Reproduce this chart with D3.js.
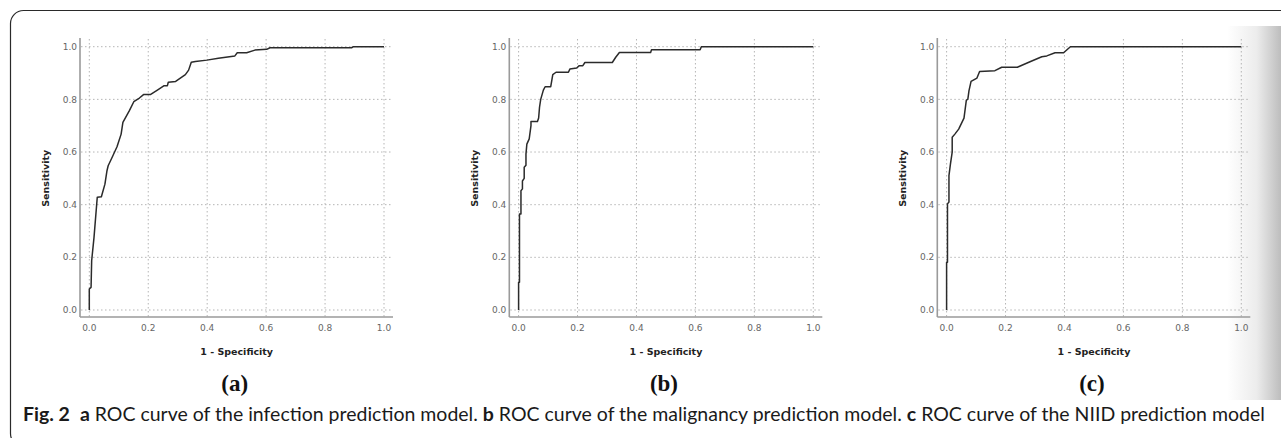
<!DOCTYPE html>
<html>
<head>
<meta charset="utf-8">
<script src="https://cdn.jsdelivr.net/npm/d3@7"></script>
<style>
  html, body { margin: 0; padding: 0; background: #fff; }
  svg { display: block; }
</style>
</head>
<body>
<div id="chart"></div>
<script>
const width = 1281;
const height = 438;

// ROC points (1 - specificity, sensitivity)
const fprA = [0, 0, 0.006, 0.008, 0.016, 0.027, 0.041, 0.053, 0.06, 0.064, 0.08, 0.094, 0.108, 0.114, 0.136, 0.151, 0.17, 0.184, 0.207, 0.231, 0.254, 0.265, 0.268, 0.293, 0.326, 0.337, 0.346, 0.36, 0.399, 0.438, 0.494, 0.502, 0.534, 0.562, 0.602, 0.613, 0.89, 0.896, 1];
const tprA = [0, 0.08, 0.086, 0.187, 0.276, 0.428, 0.43, 0.478, 0.529, 0.548, 0.586, 0.62, 0.668, 0.713, 0.757, 0.791, 0.805, 0.818, 0.818, 0.835, 0.852, 0.852, 0.865, 0.868, 0.894, 0.911, 0.941, 0.944, 0.949, 0.956, 0.965, 0.977, 0.977, 0.987, 0.99, 0.996, 0.996, 1, 1];

const fprB = [0, 0, 0.003, 0.003, 0.008, 0.008, 0.013, 0.013, 0.019, 0.019, 0.025, 0.025, 0.028, 0.036, 0.042, 0.042, 0.064, 0.068, 0.071, 0.075, 0.084, 0.09, 0.109, 0.116, 0.127, 0.169, 0.174, 0.197, 0.206, 0.218, 0.225, 0.318, 0.329, 0.342, 0.448, 0.451, 0.616, 0.62, 1];
const tprB = [0, 0.105, 0.105, 0.365, 0.365, 0.453, 0.46, 0.49, 0.5, 0.542, 0.55, 0.592, 0.63, 0.65, 0.7, 0.716, 0.716, 0.729, 0.77, 0.8, 0.835, 0.848, 0.848, 0.894, 0.903, 0.903, 0.915, 0.919, 0.928, 0.928, 0.94, 0.94, 0.959, 0.978, 0.978, 0.988, 0.988, 1, 1];

const fprC = [0, 0, 0.003, 0.003, 0.008, 0.008, 0.013, 0.019, 0.019, 0.028, 0.041, 0.059, 0.067, 0.072, 0.076, 0.083, 0.103, 0.112, 0.164, 0.187, 0.24, 0.283, 0.323, 0.34, 0.368, 0.397, 0.42, 1];
const tprC = [0, 0.181, 0.181, 0.403, 0.41, 0.51, 0.554, 0.6, 0.656, 0.668, 0.687, 0.729, 0.797, 0.8, 0.833, 0.868, 0.881, 0.906, 0.909, 0.922, 0.922, 0.943, 0.962, 0.965, 0.977, 0.977, 1, 1];

const tickValues = [0, 0.2, 0.4, 0.6, 0.8, 1.0];
const panelLetters = ["(a)", "(b)", "(c)"];
const xTitle = "1 - Specificity";
const yTitle = "Sensitivity";

const panels = [
    { fpr: fprA, tpr: tprA, letter: panelLetters[0], left: 80 },
    { fpr: fprB, tpr: tprB, letter: panelLetters[1], left: 509.3 },
    { fpr: fprC, tpr: tprC, letter: panelLetters[2], left: 937.3 }
];

const plotTop = 38;
const plotW = 313;
const plotH = 279;

const svg = d3.select("#chart").append("svg")
    .attr("width", width)
    .attr("height", height);

// page edge shadow on the right
const defs = svg.append("defs");
const grad = defs.append("linearGradient").attr("id", "edge").attr("x1", "0%").attr("x2", "100%");
grad.append("stop").attr("offset", "0%").attr("stop-color", "#ffffff");
grad.append("stop").attr("offset", "55%").attr("stop-color", "#ececec");
grad.append("stop").attr("offset", "100%").attr("stop-color", "#bdbdbd");
svg.append("rect")
    .attr("x", 1227).attr("y", 26)
    .attr("width", 54).attr("height", 374)
    .attr("fill", "url(#edge)");

// rounded figure frame
svg.append("rect")
    .attr("x", 10.5).attr("y", 10.5)
    .attr("width", 1320).attr("height", 436)
    .attr("rx", 13).attr("ry", 13)
    .attr("fill", "none")
    .attr("stroke", "#2a2a2a")
    .attr("stroke-width", 1.2);

// x and y scales shared by all panels
const x = d3.scaleLinear().domain([0, 1]).range([9.3, 304]);
const y = d3.scaleLinear().domain([0, 1]).range([272, 8.7]);

const line = d3.line()
    .x(d => x(d[0]))
    .y(d => y(d[1]));

panels.forEach(p => {
    const g = svg.append("g")
        .attr("transform", `translate(${p.left}, ${plotTop})`);

    // dotted grid
    g.selectAll(".vgrid")
        .data(tickValues)
        .enter()
        .append("line")
        .attr("x1", d => x(d)).attr("x2", d => x(d))
        .attr("y1", 1).attr("y2", plotH)
        .attr("stroke", "#b5b5b5")
        .attr("stroke-width", 1)
        .attr("stroke-dasharray", "1.5,2.5");

    g.selectAll(".hgrid")
        .data(tickValues)
        .enter()
        .append("line")
        .attr("x1", 1).attr("x2", plotW)
        .attr("y1", d => y(d)).attr("y2", d => y(d))
        .attr("stroke", "#b5b5b5")
        .attr("stroke-width", 1)
        .attr("stroke-dasharray", "1.5,2.5");

    // axis lines
    g.append("line")
        .attr("x1", 0).attr("x2", 0)
        .attr("y1", 0).attr("y2", plotH)
        .attr("stroke", "#9a9a9a")
        .attr("stroke-width", 1.6);
    g.append("line")
        .attr("x1", 0).attr("x2", plotW)
        .attr("y1", plotH).attr("y2", plotH)
        .attr("stroke", "#9a9a9a")
        .attr("stroke-width", 1.6);

    // tick labels
    g.selectAll(".ytick")
        .data(tickValues)
        .enter()
        .append("text")
        .attr("x", -3)
        .attr("y", d => y(d))
        .attr("dy", "0.35em")
        .attr("text-anchor", "end")
        .style("font-family", "DejaVu Sans")
        .style("font-size", "9px")
        .style("fill", "#666")
        .text(d => d3.format(".1f")(d));

    g.selectAll(".xtick")
        .data(tickValues)
        .enter()
        .append("text")
        .attr("x", d => x(d))
        .attr("y", plotH + 14)
        .attr("text-anchor", "middle")
        .style("font-family", "DejaVu Sans")
        .style("font-size", "9px")
        .style("fill", "#666")
        .text(d => d3.format(".1f")(d));

    // axis titles
    g.append("text")
        .attr("x", (x(0) + x(1)) / 2)
        .attr("y", plotH + 38)
        .attr("text-anchor", "middle")
        .style("font-family", "DejaVu Sans")
        .style("font-weight", "bold")
        .style("font-size", "9.5px")
        .style("fill", "#222")
        .text(xTitle);

    g.append("text")
        .attr("transform", `translate(-31, ${(y(0) + y(1)) / 2}) rotate(-90)`)
        .attr("text-anchor", "middle")
        .style("font-family", "DejaVu Sans")
        .style("font-weight", "bold")
        .style("font-size", "9.5px")
        .style("fill", "#222")
        .text(yTitle);

    // ROC curve
    const pts = p.fpr.map((f, i) => [f, p.tpr[i]]);
    g.append("path")
        .datum(pts)
        .attr("d", line)
        .attr("fill", "none")
        .attr("stroke", "#2b2b2b")
        .attr("stroke-width", 1.5)
        .attr("stroke-linejoin", "round");

    // panel letter
    g.append("text")
        .attr("x", (x(0) + x(1)) / 2 - 2)
        .attr("y", 353)
        .attr("text-anchor", "middle")
        .style("font-family", "Liberation Serif")
        .style("font-weight", "bold")
        .style("font-size", "23px")
        .style("fill", "#111")
        .text(p.letter);
});

// caption
const captionParts = [
    { t: "Fig. 2", b: true },
    { t: "\u00a0\u00a0", b: false },
    { t: "a", b: true },
    { t: " ROC curve of the infection prediction model. ", b: false },
    { t: "b", b: true },
    { t: " ROC curve of the malignancy prediction model. ", b: false },
    { t: "c", b: true },
    { t: " ROC curve of the NIID prediction model", b: false }
];

const caption = svg.append("text")
    .attr("x", 23)
    .attr("y", 421)
    .style("font-family", "Lato")
    .style("font-size", "16px")
    .style("fill", "#1a1a1a");

caption.selectAll("tspan")
    .data(captionParts)
    .enter()
    .append("tspan")
    .style("font-weight", d => d.b ? "bold" : "normal")
    .text(d => d.t);

// fit caption to its width in the figure
const captionWidth = 1242;
const measured = caption.node().getComputedTextLength();
caption.style("font-size", (16 * captionWidth / measured).toFixed(2) + "px");
</script>
</body>
</html>
